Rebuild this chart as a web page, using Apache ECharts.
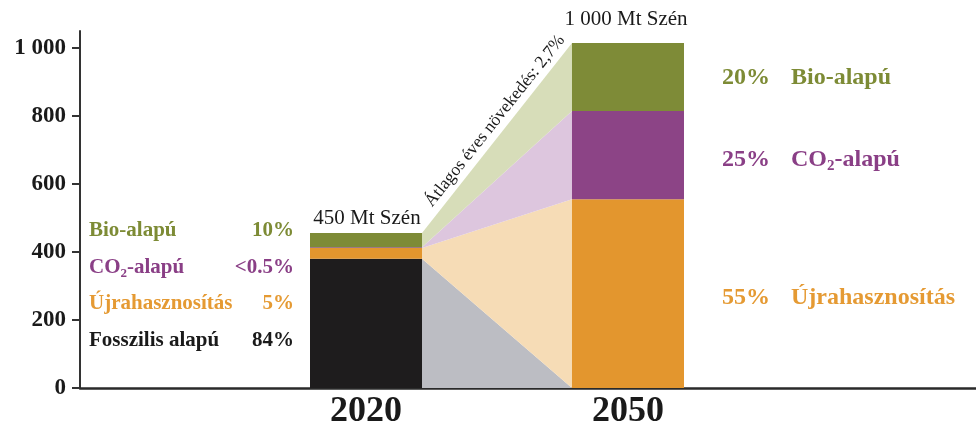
<!DOCTYPE html>
<html>
<head>
<meta charset="utf-8">
<script src="https://cdn.jsdelivr.net/npm/echarts@6/dist/echarts.min.js"></script>
<style>
  html, body { margin: 0; padding: 0; background: #fff; }
  #chart { width: 976px; height: 426px; }
</style>
</head>
<body>
<div id="chart"></div>
<script>
// data (Mt)
const years = [2020, 2050];
const fossil = [380, 0];
const recycling = [32, 555];
const co2 = [2, 260];
const bio = [42, 200];
const yTicks = [0, 200, 400, 600, 800, 1000];
const totalLabels = ['450 Mt Szén', '1 000 Mt Szén'];
const shares2020 = ['84%', '5%', '<0.5%', '10%'];
const shares2050 = ['', '55%', '25%', '20%'];

const layers = [
  { name: 'Fosszilis alapú', values: fossil, bar: '#1e1c1d', band: '#bcbdc3', text: '#1a1a1a' },
  { name: 'Újrahasznosítás', values: recycling, bar: '#e3962e', band: '#f6dcb6', text: '#e59a33' },
  { name: 'CO2-alapú', values: co2, bar: '#8c4486', band: '#ddc6de', text: '#8a3f86' },
  { name: 'Bio-alapú', values: bio, bar: '#7e8b37', band: '#d7ddb9', text: '#7d8b35' }
];

// stack the layers
const running = years.map(() => 0);
layers.forEach(l => {
  l.base = running.slice();
  l.top = l.values.map((v, i) => running[i] + v);
  l.top.forEach((t, i) => { running[i] = t; });
});

const BAR_W = 112;
const serif = '"Liberation Serif", "DejaVu Serif", serif';

const series = [];
layers.forEach(l => {
  // connecting band between the two bars
  series.push({
    type: 'custom',
    name: l.name + ' band',
    z: 1,
    silent: true,
    encode: { x: [0, 3], y: [1, 2, 4, 5] },
    data: [[years[0], l.base[0], l.top[0], years[1], l.base[1], l.top[1]]],
    renderItem: (params, api) => {
      const a0 = api.coord([api.value(0), api.value(1)]);
      const a1 = api.coord([api.value(0), api.value(2)]);
      const b0 = api.coord([api.value(3), api.value(4)]);
      const b1 = api.coord([api.value(3), api.value(5)]);
      const xa = a0[0] + BAR_W / 2, xb = b0[0] - BAR_W / 2;
      return {
        type: 'polygon',
        shape: { points: [[xa, a1[1]], [xb, b1[1]], [xb, b0[1]], [xa, a0[1]]] },
        style: { fill: l.band }
      };
    }
  });
  // bars
  series.push({
    type: 'custom',
    name: l.name,
    z: 2,
    silent: true,
    encode: { x: 0, y: [1, 2] },
    data: years.map((y, i) => [y, l.base[i], l.top[i]]),
    renderItem: (params, api) => {
      const p0 = api.coord([api.value(0), api.value(1)]);
      const p1 = api.coord([api.value(0), api.value(2)]);
      return {
        type: 'rect',
        shape: { x: p0[0] - BAR_W / 2, y: p1[1], width: BAR_W, height: p0[1] - p1[1] },
        style: { fill: l.bar }
      };
    }
  });
});

function nameText(name) {
  return name.startsWith('CO2') ? '{a|CO}{s|2}{a|' + name.slice(3) + '}' : '{a|' + name + '}';
}
function richFor(color, size) {
  return {
    a: { fontFamily: serif, fontWeight: 'bold', fontSize: size, lineHeight: size + 4, fill: color },
    s: { fontFamily: serif, fontWeight: 'bold', fontSize: Math.round(size * 0.62), lineHeight: 10, verticalAlign: 'bottom', fill: color }
  };
}

const graphic = [];
// left block (2020 shares)
const leftY = [341, 304, 268, 231];
layers.forEach((l, k) => {
  graphic.push({
    type: 'text', x: 89, y: leftY[k],
    style: { text: nameText(l.name), rich: richFor(l.text, 21), textAlign: 'left', textVerticalAlign: 'middle' }
  });
  graphic.push({
    type: 'text', x: 294, y: leftY[k],
    style: { text: shares2020[k], fill: l.text, font: 'bold 21px ' + serif, textAlign: 'right', textVerticalAlign: 'middle' }
  });
});
// right block (2050 shares)
const rightY = [0, 298, 160, 78];
layers.forEach((l, k) => {
  if (!shares2050[k]) return;
  graphic.push({
    type: 'text', x: 722, y: rightY[k],
    style: { text: shares2050[k], fill: l.text, font: 'bold 24px ' + serif, textAlign: 'left', textVerticalAlign: 'middle' }
  });
  graphic.push({
    type: 'text', x: 791, y: rightY[k],
    style: { text: nameText(l.name), rich: richFor(l.text, 24), textAlign: 'left', textVerticalAlign: 'middle' }
  });
});
// totals
graphic.push({
  type: 'text', x: 367, y: 218,
  style: { text: totalLabels[0], fill: '#1a1a1a', font: '21px ' + serif, textAlign: 'center', textVerticalAlign: 'middle' }
});
graphic.push({
  type: 'text', x: 626, y: 19,
  style: { text: totalLabels[1], fill: '#1a1a1a', font: '21px ' + serif, textAlign: 'center', textVerticalAlign: 'middle' }
});
graphic.push({
  type: 'text', x: 495, y: 121, rotation: 51.5 * Math.PI / 180,
  style: { text: 'Átlagos éves növekedés: 2,7%', fill: '#1a1a1a', font: '17.5px ' + serif, textAlign: 'center', textVerticalAlign: 'middle' }
});

const chart = echarts.init(document.getElementById('chart'));
chart.setOption({
  animation: false,
  grid: { left: 80, right: 0, top: 31, bottom: 38, outerBoundsMode: 'none' },
  xAxis: {
    type: 'value',
    min: 1987.25,
    max: 2089.85,
    axisLine: { show: true, onZero: false, lineStyle: { color: '#2a2a2a', width: 2.5 } },
    axisTick: { show: false },
    splitLine: { show: false },
    axisLabel: {
      customValues: years,
      formatter: v => String(v),
      fontFamily: serif,
      fontWeight: 'bold',
      fontSize: 36,
      color: '#1a1a1a',
      margin: 6
    }
  },
  yAxis: {
    type: 'value',
    min: 0,
    max: 1050,
    axisLine: { show: true, onZero: false, lineStyle: { color: '#333', width: 2 } },
    axisTick: { show: true, customValues: yTicks, length: 8, lineStyle: { color: '#333', width: 2 } },
    splitLine: { show: false },
    axisLabel: {
      customValues: yTicks,
      formatter: v => v >= 1000 ? Math.floor(v / 1000) + ' ' + String(v % 1000).padStart(3, '0') : String(v),
      fontFamily: serif,
      fontWeight: 'bold',
      fontSize: 23,
      color: '#1a1a1a',
      margin: 14
    }
  },
  series: series,
  graphic: graphic
});
</script>
</body>
</html>
